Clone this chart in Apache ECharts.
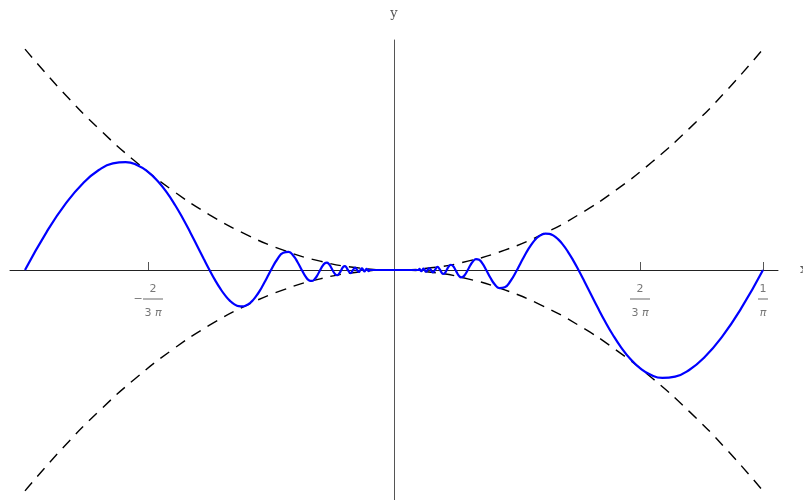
<!DOCTYPE html>
<html>
<head>
<meta charset="utf-8">
<script src="https://cdn.jsdelivr.net/npm/echarts@6/dist/echarts.min.js"></script>
<style>html,body{margin:0;padding:0;background:#fff}#c{width:803px;height:500px}</style>
</head>
<body>
<div id="c"></div>
<script>
// curve y = x^2 sin(1/x)
const curveX = [
-0.318310,-0.299586,-0.282942,-0.268051,-0.254648,-0.242522,-0.231498,-0.221433,-0.212207,
-0.203718,-0.195883,-0.188628,-0.181891,-0.175619,-0.169765,-0.164289,-0.159155,
-0.154332,-0.149793,-0.145513,-0.141471,-0.137647,-0.134025,-0.130589,-0.127324,
-0.124218,-0.121261,-0.118441,-0.115749,-0.113177,-0.110717,-0.108361,-0.106103,
-0.100519,-0.095493,-0.090946,-0.086812,-0.083037,-0.079577,
-0.076394,-0.073456,-0.070736,-0.068209,-0.065857,-0.063662,
-0.061608,-0.059683,-0.057875,-0.056172,-0.054567,-0.053052,
-0.050930,-0.048971,-0.047157,-0.045473,
-0.043905,-0.042441,-0.041072,-0.039789,
-0.037448,-0.035368,-0.033506,-0.031831,-0.030315,-0.028937,-0.027679,-0.026526,
-0.025465,-0.024485,-0.023579,-0.022736,-0.021952,-0.021221,
0,
0.021221,0.021952,0.022736,0.023579,0.024485,0.025465,
0.026526,0.027679,0.028937,0.030315,0.031831,0.033506,0.035368,0.037448,
0.039789,0.041072,0.042441,0.043905,
0.045473,0.047157,0.048971,0.050930,
0.053052,0.054567,0.056172,0.057875,0.059683,0.061608,
0.063662,0.065857,0.068209,0.070736,0.073456,0.076394,
0.079577,0.083037,0.086812,0.090946,0.095493,0.100519,
0.106103,0.108361,0.110717,0.113177,0.115749,0.118441,0.121261,0.124218,
0.127324,0.130589,0.134025,0.137647,0.141471,0.145513,0.149793,0.154332,
0.159155,0.164289,0.169765,0.175619,0.181891,0.188628,0.195883,0.203718,
0.212207,0.221433,0.231498,0.242522,0.254648,0.268051,0.282942,0.299586,0.318310
];
const curveY = [
0,0.017510,0.030636,0.039918,0.045853,0.048904,0.049512,0.048091,0.045032,
0.040704,0.035450,0.029585,0.023394,0.017135,0.011029,0.005266,0,
-0.004647,-0.008587,-0.011764,-0.014152,-0.015754,-0.016596,-0.016725,-0.016211,
-0.015134,-0.013585,-0.011664,-0.009474,-0.007116,-0.004691,-0.002291,0,
0.005052,0.007897,0.008271,0.006527,0.003448,0,
-0.002918,-0.004673,-0.005004,-0.004029,-0.002169,0,
0.001898,0.003085,0.003350,0.002733,0.001489,0,
-0.001834,-0.002398,-0.001572,0,
0.001363,0.001801,0.001193,0,
-0.001402,0,0.001123,0,-0.000919,0,0.000766,0,
-0.000648,0,0.000556,0,-0.000482,0,
0,
0,0.000482,0,-0.000556,0,0.000648,
0,-0.000766,0,0.000919,0,-0.001123,0,0.001402,
0,-0.001193,-0.001801,-0.001363,
0,0.001572,0.002398,0.001834,
0,-0.001489,-0.002733,-0.003350,-0.003085,-0.001898,
0,0.002169,0.004029,0.005004,0.004673,0.002918,
0,-0.003448,-0.006527,-0.008271,-0.007897,-0.005052,
0,0.002291,0.004691,0.007116,0.009474,0.011664,0.013585,0.015134,
0.016211,0.016725,0.016596,0.015754,0.014152,0.011764,0.008587,0.004647,
0,-0.005266,-0.011029,-0.017135,-0.023394,-0.029585,-0.035450,-0.040704,
-0.045032,-0.048091,-0.049512,-0.048904,-0.045853,-0.039918,-0.030636,-0.017510,0
];
// envelopes ±x^2
const envX = [-0.31831,-0.28648,-0.25465,-0.22282,-0.19099,-0.15915,-0.12732,-0.09549,-0.06366,-0.03183,0,
0.03183,0.06366,0.09549,0.12732,0.15915,0.19099,0.22282,0.25465,0.28648,0.31831];
const envUpper = [0.101321,0.082070,0.064846,0.049648,0.036476,0.025330,0.016211,0.009119,0.004053,0.001013,0,
0.001013,0.004053,0.009119,0.016211,0.025330,0.036476,0.049648,0.064846,0.082070,0.101321];
const envLower = [-0.101321,-0.082070,-0.064846,-0.049648,-0.036476,-0.025330,-0.016211,-0.009119,-0.004053,-0.001013,0,
-0.001013,-0.004053,-0.009119,-0.016211,-0.025330,-0.036476,-0.049648,-0.064846,-0.082070,-0.101321];
// x tick marks and labels
const tickValues = [-0.212207, 0.212207, 0.318310];
const tickSigns = ['−', '', ''];
const tickNums = ['2', '2', '1'];
const tickDens = ['3 ', '3 ', ''];

const pair = (xs, ys) => xs.map((x, i) => [x, ys[i]]);
const LBL = '#555';
const fontSans = 'DejaVu Sans';

function fmt(i) {
  const wide = tickDens[i] !== '';
  const bar = wide ? 'b' : 'bs';
  if (tickSigns[i]) {
    return '{sp| }{n|' + tickNums[i] + '}\n{m|' + tickSigns[i] + '}{' + bar + '| }\n{sp| }{d|' + tickDens[i] + '}{pi|π}';
  }
  return '{n|' + tickNums[i] + '}\n{' + bar + '| }\n' + (wide ? '{d|' + tickDens[i] + '}' : '') + '{pi|π}';
}
const rich = {
  n: {fontFamily: fontSans, fontSize: 11, color: LBL, lineHeight: 14},
  sp: {width: 10, lineHeight: 14, fontSize: 11},
  m: {fontFamily: fontSans, fontSize: 11, color: LBL, lineHeight: 6, width: 10},
  b: {width: 20, height: 1, backgroundColor: '#444', lineHeight: 6, fontSize: 1},
  bs: {width: 10, height: 1, backgroundColor: '#444', lineHeight: 6, fontSize: 1},
  d: {fontFamily: fontSans, fontSize: 11, color: LBL, lineHeight: 22},
  pi: {fontFamily: fontSans, fontSize: 11, fontStyle: 'italic', color: LBL, lineHeight: 22}
};

const chart = echarts.init(document.getElementById('c'), null, {renderer: 'canvas'});
chart.setOption({
  animation: false,
  backgroundColor: '#fff',
  grid: {left: 10, right: 25, top: 40, bottom: 0, containLabel: false, outerBoundsMode: 'none'},
  xAxis: {
    type: 'value', min: -0.33126, max: 0.33126,
    name: 'x', nameLocation: 'end', nameGap: 22,
    nameTextStyle: {color: LBL, fontFamily: 'DejaVu Serif', fontSize: 13},
    axisLine: {onZero: true, lineStyle: {color: '#222', width: 1}},
    axisTick: {show: true, inside: true, length: 8, customValues: tickValues, lineStyle: {color: '#555'}},
    axisLabel: {show: false},
    splitLine: {show: false}
  },
  yAxis: {
    type: 'value', min: -0.1055, max: 0.1055,
    name: 'y', nameLocation: 'end', nameGap: 20,
    nameTextStyle: {color: LBL, fontFamily: 'DejaVu Serif', fontSize: 13, align: 'center'},
    axisLine: {show: true, onZero: true, lineStyle: {color: '#555', width: 1}},
    axisTick: {show: false},
    axisLabel: {show: false},
    splitLine: {show: false}
  },
  series: [
    {type: 'line', data: pair(envX, envUpper), smooth: true, symbol: 'none',
     lineStyle: {color: '#000', width: 1.4, type: [11, 8]}, z: 2},
    {type: 'line', data: pair(envX, envLower), smooth: true, symbol: 'none',
     lineStyle: {color: '#000', width: 1.4, type: [11, 8]}, z: 2},
    {type: 'line', data: pair(curveX, curveY), smooth: true, symbol: 'none',
     lineStyle: {color: '#0000ff', width: 2.2}, z: 3},
    {type: 'scatter', data: tickValues.map(v => [v, 0]), symbolSize: 0, silent: true, z: 4,
     label: {show: true, position: 'bottom', distance: 12, align: 'center', verticalAlign: 'top',
       formatter: p => fmt(p.dataIndex), rich: rich}}
  ]
});
</script>
</body>
</html>
